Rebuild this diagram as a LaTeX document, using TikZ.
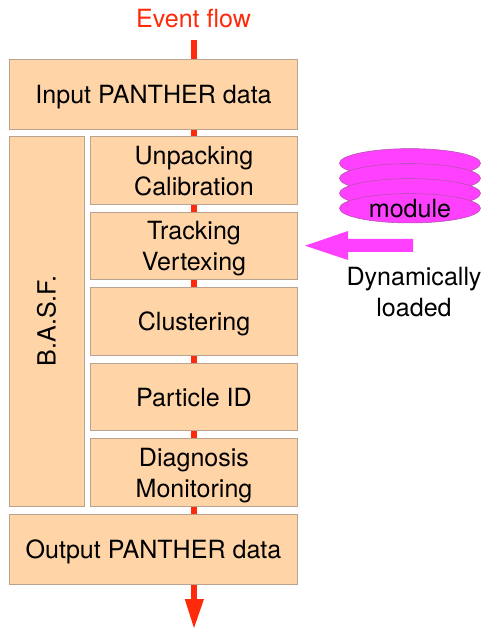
\documentclass[tikz,border=0pt]{standalone}
\usepackage{fontspec}
\setmainfont{TeX Gyre Heros}
\usetikzlibrary{arrows.meta,shapes.geometric}
\definecolor{boxfill}{HTML}{FFD5A8}
\definecolor{boxline}{HTML}{B8A48E}
\definecolor{flowred}{HTML}{FF2A0A}
\definecolor{modpink}{HTML}{FF40FF}
\definecolor{modline}{HTML}{B050A8}
\newcommand{\strt}{\rule[-4.6pt]{0pt}{23.2pt}}
\tikzset{
  x=0.75pt,y=-0.75pt,
  blockbox/.style={draw=boxline,line width=0.6pt,fill=boxfill,inner sep=0pt,outer sep=0pt,align=center,font=\fontsize{18.8}{23.2}\selectfont},
  modellipse/.style={ellipse,draw=modline,line width=0.4pt,fill=modpink,minimum width=105.75pt,minimum height=22pt,inner sep=0pt,outer sep=0pt,font=\fontsize{18.8}{23.2}\selectfont},
  flowline/.style={draw=flowred,line width=4.6pt},
  plain/.style={inner sep=0pt,outer sep=0pt,align=center,font=\fontsize{18.8}{23.2}\selectfont},
}
\newcommand{\blk}[6]{\node[blockbox,minimum width=#4*0.75pt-#2*0.75pt,minimum height=#5*0.75pt-#3*0.75pt] (#1) at ({(#2+#4)/2},{(#3+#5)/2}) {#6};}
\begin{document}
\begin{tikzpicture}
\useasboundingbox (0,0) rectangle (498,634);
\coordinate (flowtop) at (194,40);
\coordinate (flowend) at (194,628);
\coordinate (flowneck) at (194,600);
\coordinate (modtail) at (413,245.7);
\coordinate (modtip) at (305,245.7);
% red flow drawn behind the boxes
\draw[flowline] (flowtop) -- (flowneck);
\fill[flowred] (184.7,599) -- (204,599) -- (flowend) -- cycle;
\blk{input}{9.5}{59.5}{297.5}{129.5}{\strt Input PANTHER data}
\blk{basf}{9.5}{136.5}{84.5}{506}{}
\node[plain,rotate=90] (basflabel) at (46.4,321) {\strt B.A.S.F.};
\blk{unpack}{90.5}{136.5}{297.5}{204.5}{\strt Unpacking\\\strt Calibration}
\blk{track}{90.5}{212}{297.5}{279.5}{\strt Tracking\\\strt Vertexing}
\blk{clust}{90.5}{287.5}{297.5}{355}{\strt Clustering}
\blk{pid}{90.5}{363}{297.5}{430.5}{\strt Particle ID}
\blk{diag}{90.5}{438.5}{297.5}{506}{\strt Diagnosis\\\strt Monitoring}
\blk{output}{9.5}{514.5}{297.5}{584.5}{\strt Output PANTHER data}
\node[plain,text=flowred] (flowlabel) at (193.5,18.3) {\strt Event flow};
% module stack
\node[modellipse] (m1) at (410,163.3) {};
\node[modellipse] (m2) at (410,178.3) {};
\node[modellipse] (m3) at (410,193.3) {};
\node[modellipse] (m4) at (410,208.3) {\raisebox{-6.9pt}[0pt][0pt]{module}};
\fill[modpink] (modtail |- 0,239) -- (348,239) -- (348,231) -- (modtip) -- (348,260) -- (348,252) -- (modtail |- 0,252) -- cycle;
\node[plain] (dyn) at (414,291.5) {\strt Dynamically\\\strt loaded};
\end{tikzpicture}
\end{document}
